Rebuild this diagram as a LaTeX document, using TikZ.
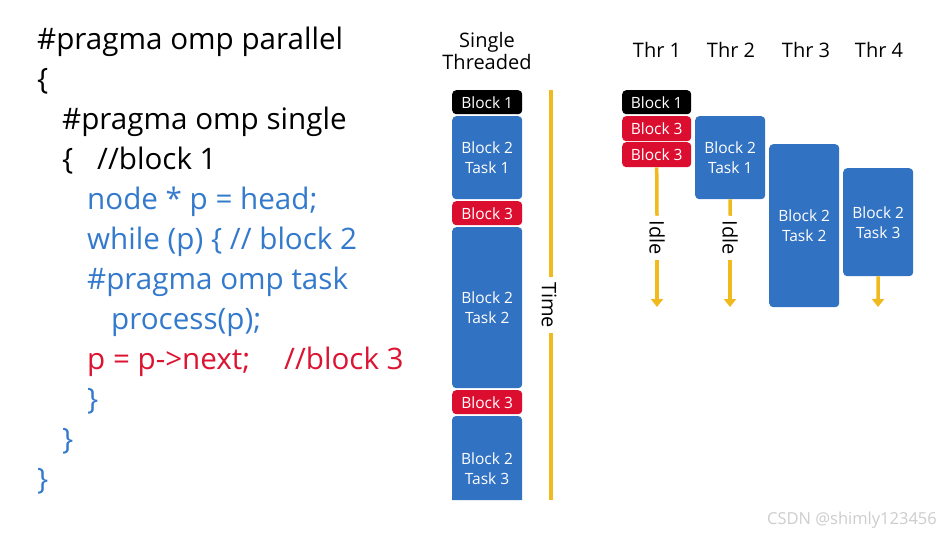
\documentclass[tikz,border=0pt]{standalone}
\usepackage{fontspec}
\setmainfont{Open Sans}
\usetikzlibrary{arrows.meta}
\definecolor{codeblue}{RGB}{52,122,204}
\definecolor{codered}{RGB}{220,20,50}
\definecolor{boxblue}{RGB}{50,114,194}
\definecolor{boxred}{RGB}{220,14,48}
\definecolor{boxblack}{RGB}{0,0,0}
\definecolor{timeyellow}{RGB}{240,186,30}
\definecolor{wmgray}{RGB}{205,205,205}
\tikzset{
  codeline/.style={anchor=base west, inner sep=0pt, font=\fontsize{29.6}{34}\selectfont},
  hdr/.style={inner sep=0pt, font=\fontsize{20}{18}\selectfont, align=center},
  blockbox/.style={rounded corners=4pt, inner sep=0pt, text=white, align=center,
    minimum width=70pt, font=\fontsize{15.5}{20}\selectfont},
  tline/.style={draw=timeyellow, line width=3.5pt},
  tarrow/.style={draw=timeyellow, line width=3.5pt, -{Triangle[width=12pt,length=8pt]}},
  vlabel/.style={rotate=-90, inner xsep=5pt, inner ysep=0pt, font=\fontsize{20}{20}\selectfont}
}
\begin{document}
\begin{tikzpicture}[x=1pt,y=-1pt]
\useasboundingbox (0,0) rectangle (941,535);
\fill[white] (0,0) rectangle (941,535);
% code
\node[codeline] (l1) at (37,49) {\#pragma omp parallel};
\node[codeline] (l2) at (37,89) {\{};
\node[codeline] (l3) at (62,129) {\#pragma omp single};
\node[codeline] (l4) at (62,169) {\{};
\node[codeline] (l4b) at (97,169) {//block 1};
\node[codeline, text=codeblue] (l5) at (87,209) {node * p = head;};
\node[codeline, text=codeblue] (l6) at (87,249) {while (p) \{ // block 2};
\node[codeline, text=codeblue] (l7) at (87,289) {\#pragma omp task};
\node[codeline, text=codeblue] (l8) at (111,329) {process(p);};
\node[codeline, text=codered] (l9) at (87,369) {p = p->next;};
\node[codeline, text=codered] (l9b) at (284,369) {//block 3};
\node[codeline, text=codeblue] (l10) at (87,409) {\}};
\node[codeline, text=codeblue] (l11) at (62,449) {\}};
\node[codeline, text=codeblue] (l12) at (37,489) {\}};
% single threaded
\node[hdr, font=\fontsize{20}{16.5}\selectfont] (st) at (487,51) {Single\\Threaded};
\node[blockbox, fill=boxblack, minimum height=24pt, anchor=north west] (s1) at (452,90) {Block 1};
\node[blockbox, fill=boxblue, minimum height=83pt, anchor=north west] (s2) at (452,116) {Block 2\\Task 1};
\node[blockbox, fill=boxred, minimum height=24pt, anchor=north west] (s3) at (452,201) {Block 3};
\node[blockbox, fill=boxblue, minimum height=161pt, anchor=north west] (s4) at (452,227) {Block 2\\Task 2};
\node[blockbox, fill=boxred, minimum height=24pt, anchor=north west] (s5) at (452,390) {Block 3};
\fill[boxblue, rounded corners=4pt] (452,500) -- (452,416) -- (522,416) [sharp corners] -- (522,500) -- cycle;
\node[inner sep=0pt, text=white, align=center, font=\fontsize{15.5}{20}\selectfont] (s6) at (487,469) {Block 2\\Task 3};
% time
\coordinate (tTop) at (551,90);
\coordinate (tBot) at (551,500);
\node[vlabel] (time) at (549,305) {Time};
\draw[tline] (tTop) -- (tTop |- time.west);
\draw[tline] (tBot |- time.east) -- (tBot);
% threads headers
\node[hdr] (h1) at (657,50) {Thr 1};
\node[hdr] (h2) at (731,50) {Thr 2};
\node[hdr] (h3) at (806,50) {Thr 3};
\node[hdr] (h4) at (879,50) {Thr 4};
% thread 1
\node[blockbox, fill=boxblack, minimum width=69pt, minimum height=24pt, anchor=north west] (a1) at (622,90) {Block 1};
\node[blockbox, fill=boxred, minimum width=69pt, minimum height=25pt, anchor=north west] (a2) at (622,116) {Block 3};
\node[blockbox, fill=boxred, minimum width=69pt, minimum height=25pt, anchor=north west] (a3) at (622,142) {Block 3};
\node[vlabel] (idle1) at (657,238) {Idle};
\coordinate (e1) at (657,307);
\draw[tline] (a3.south) -- (idle1.west);
\draw[tarrow] (idle1.east) -- (e1);
% thread 2
\node[blockbox, fill=boxblue, minimum height=83pt, anchor=north west] (b1) at (695,116) {Block 2\\Task 1};
\node[vlabel] (idle2) at (730,238) {Idle};
\coordinate (e2) at (730,307);
\draw[tline] (b1.south) -- (idle2.west);
\draw[tarrow] (idle2.east) -- (e2);
% thread 3
\node[blockbox, fill=boxblue, minimum height=163pt, anchor=north west] (c1) at (769,144) {Block 2\\Task 2};
% thread 4
\node[blockbox, fill=boxblue, minimum height=108pt, anchor=north west] (d1) at (843,168) {Block 2\\Task 3};
\coordinate (e4) at (878,307);
\draw[tarrow] (d1.south) -- (e4);
% watermark
\node[inner sep=0pt, text=wmgray, font=\fontsize{16.5}{16}\selectfont, anchor=east] (wm) at (937,520) {CSDN @shimly123456};
\end{tikzpicture}
\end{document}
